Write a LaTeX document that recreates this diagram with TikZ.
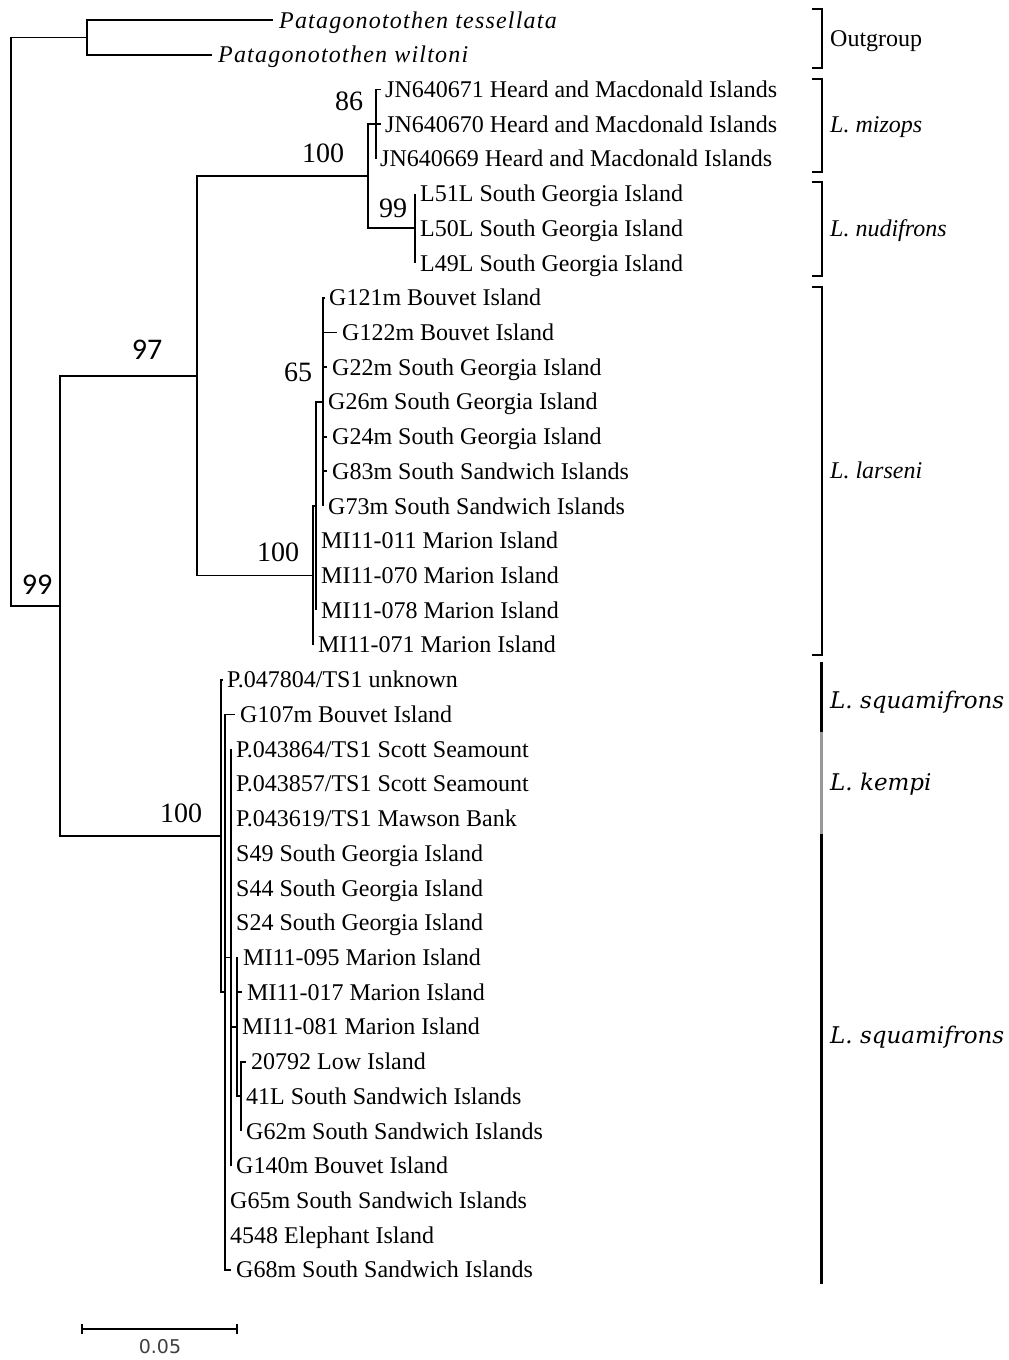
\documentclass[tikz,border=0pt]{standalone}
\usepackage{fontspec}
\setmainfont{Liberation Serif}
\newfontfamily\sqfont{DejaVu Serif}
\newfontfamily\bsfont{Carlito}
\newfontfamily\barfont{DejaVu Sans}
\newfontfamily\ogfont[LetterSpace=5]{Liberation Serif}
\usetikzlibrary{positioning}

% row height of the tip labels
\def\ry#1{20+34.72*#1-34.72}

\tikzset{
    branch/.style={line width=1.8pt},
    tiplab/.style={inner sep=0pt, text height=16pt, text depth=0pt, font=\fontsize{24}{24}\selectfont},
    boot/.style={inner sep=0pt, font=\fontsize{28}{28}\selectfont},
    bootsans/.style={inner sep=0pt, font=\bsfont\fontsize{30}{30}\selectfont},
    bracket/.style={line width=2pt},
    grouplab/.style={anchor=west, inner sep=0pt, text height=16pt, text depth=0pt, font=\fontsize{24}{24}\selectfont},
    sqlab/.style={grouplab, font=\sqfont\itshape\fontsize{23}{23}\selectfont},
    bar/.style={line width=3pt}
}

\begin{document}
\begin{tikzpicture}[x=1pt, y=-1pt]
        \fill[white] (0,0) rectangle (1009,1360);
        \useasboundingbox (0,0) rectangle (1009,1360);

        % inner nodes
        \coordinate (R) at (11,{(37.4+606)/2});
        \coordinate (O) at (87,37.4);
        \coordinate (I) at (60,606);
        \coordinate (N97) at (197,375.9);
        \coordinate (MN) at (368,176.2);
        \coordinate (MZ) at (376,\ry{4});
        \coordinate (ND) at (415,\ry{7});
        \coordinate (A) at (313,575.5);
        \coordinate (B) at (316,506);
        \coordinate (C) at (323,\ry{12});
        \coordinate (S) at (221,836);
        \coordinate (T) at (225,\ry{29});
        \coordinate (U) at (231,\ry{28});
        \coordinate (V) at (237,\ry{30});
        \coordinate (W) at (241,\ry{32});

        % tips
        \coordinate (t1) at (273,\ry{1});
        \coordinate (t2) at (212,\ry{2});
        \coordinate (t3) at (381,\ry{3});
        \coordinate (t4) at (381,\ry{4});
        \coordinate (t5) at (376,\ry{5});
        \coordinate (t6) at (415,\ry{6});
        \coordinate (t7) at (415,\ry{7});
        \coordinate (t8) at (415,\ry{8});
        \coordinate (t9) at (325,\ry{9});
        \coordinate (t10) at (337,\ry{10});
        \coordinate (t11) at (327,\ry{11});
        \coordinate (t12) at (323,\ry{12});
        \coordinate (t13) at (327,\ry{13});
        \coordinate (t14) at (327,\ry{14});
        \coordinate (t15) at (323,\ry{15});
        \coordinate (t16) at (316,\ry{16});
        \coordinate (t17) at (316,\ry{17});
        \coordinate (t18) at (316,\ry{18});
        \coordinate (t19) at (313,\ry{19});
        \coordinate (t20) at (223,\ry{20});
        \coordinate (t21) at (235,\ry{21});
        \coordinate (t22) at (231,\ry{22});
        \coordinate (t23) at (231,\ry{23});
        \coordinate (t24) at (231,\ry{24});
        \coordinate (t25) at (231,\ry{25});
        \coordinate (t26) at (231,\ry{26});
        \coordinate (t27) at (231,\ry{27});
        \coordinate (t28) at (238,\ry{28});
        \coordinate (t29) at (242,\ry{29});
        \coordinate (t30) at (237,\ry{30});
        \coordinate (t31) at (246,\ry{31});
        \coordinate (t32) at (241,\ry{32});
        \coordinate (t33) at (241,\ry{33});
        \coordinate (t34) at (231,\ry{34});
        \coordinate (t35) at (225,\ry{35});
        \coordinate (t36) at (225,\ry{36});
        \coordinate (t37) at (231,\ry{37});

        % branches
        \draw[branch] (R) |- (O) (R) |- (I) (O) |- (t1) (O) |- (t2);
        \draw[branch] (I) |- (N97) (I) |- (S);
        \draw[branch] (N97) |- (MN) (N97) |- (A);
        \draw[branch] (MN) |- (MZ) (MN) |- (ND);
        \draw[branch] (MZ) |- (t3) (MZ) |- (t4) (MZ) |- (t5);
        \draw[branch] (ND) |- (t6) (ND) |- (t7) (ND) |- (t8);
        \draw[branch] (A) |- (B) (A) |- (t19);
        \draw[branch] (B) |- (C) (B) |- (t16) (B) |- (t17) (B) |- (t18);
        \draw[branch] (C) |- (t9) (C) |- (t10) (C) |- (t11) (C) |- (t12) (C) |- (t13) (C) |- (t14) (C) |- (t15);
        \draw[branch] (S) |- (t20) (S) |- (T);
        \draw[branch] (T) |- (t21) (T) |- (U) (T) |- (t35) (T) |- (t36) (T) |- (t37);
        \draw[branch] (U) |- (t22) (U) |- (t23) (U) |- (t24) (U) |- (t25) (U) |- (t26) (U) |- (t27) (U) |- (V) (U) |- (t34);
        \draw[branch] (V) |- (t28) (V) |- (t29) (V) |- (t30) (V) |- (W);
        \draw[branch] (W) |- (t31) (W) |- (t32) (W) |- (t33);

        % tip labels
        \node[tiplab, right=6pt of t1] (l1) {\ogfont\itshape Patagonotothen tessellata};
        \node[tiplab, right=6pt of t2] (l2) {\ogfont\itshape Patagonotothen wiltoni};
        \node[tiplab, right=4pt of t3] (l3) {JN640671 Heard and Macdonald Islands};
        \node[tiplab, right=4pt of t4] (l4) {JN640670 Heard and Macdonald Islands};
        \node[tiplab, right=4pt of t5] (l5) {JN640669 Heard and Macdonald Islands};
        \node[tiplab, right=5pt of t6] (l6) {L51L South Georgia Island};
        \node[tiplab, right=5pt of t7] (l7) {L50L South Georgia Island};
        \node[tiplab, right=5pt of t8] (l8) {L49L South Georgia Island};
        \node[tiplab, right=4pt of t9] (l9) {G121m Bouvet Island};
        \node[tiplab, right=5pt of t10] (l10) {G122m Bouvet Island};
        \node[tiplab, right=5pt of t11] (l11) {G22m South Georgia Island};
        \node[tiplab, right=5pt of t12] (l12) {G26m South Georgia Island};
        \node[tiplab, right=5pt of t13] (l13) {G24m South Georgia Island};
        \node[tiplab, right=5pt of t14] (l14) {G83m South Sandwich Islands};
        \node[tiplab, right=5pt of t15] (l15) {G73m South Sandwich Islands};
        \node[tiplab, right=5pt of t16] (l16) {MI11-011 Marion Island};
        \node[tiplab, right=5pt of t17] (l17) {MI11-070 Marion Island};
        \node[tiplab, right=5pt of t18] (l18) {MI11-078 Marion Island};
        \node[tiplab, right=5pt of t19] (l19) {MI11-071 Marion Island};
        \node[tiplab, right=4pt of t20] (l20) {P.047804/TS1 unknown};
        \node[tiplab, right=5pt of t21] (l21) {G107m Bouvet Island};
        \node[tiplab, right=5pt of t22] (l22) {P.043864/TS1 Scott Seamount};
        \node[tiplab, right=5pt of t23] (l23) {P.043857/TS1 Scott Seamount};
        \node[tiplab, right=5pt of t24] (l24) {P.043619/TS1 Mawson Bank};
        \node[tiplab, right=5pt of t25] (l25) {S49 South Georgia Island};
        \node[tiplab, right=5pt of t26] (l26) {S44 South Georgia Island};
        \node[tiplab, right=5pt of t27] (l27) {S24 South Georgia Island};
        \node[tiplab, right=5pt of t28] (l28) {MI11-095 Marion Island};
        \node[tiplab, right=5pt of t29] (l29) {MI11-017 Marion Island};
        \node[tiplab, right=5pt of t30] (l30) {MI11-081 Marion Island};
        \node[tiplab, right=5pt of t31] (l31) {20792 Low Island};
        \node[tiplab, right=5pt of t32] (l32) {41L South Sandwich Islands};
        \node[tiplab, right=5pt of t33] (l33) {G62m South Sandwich Islands};
        \node[tiplab, right=5pt of t34] (l34) {G140m Bouvet Island};
        \node[tiplab, right=5pt of t35] (l35) {G65m South Sandwich Islands};
        \node[tiplab, right=5pt of t36] (l36) {4548 Elephant Island};
        \node[tiplab, right=5pt of t37] (l37) {G68m South Sandwich Islands};

        % support values
        \node[boot] (b86) at (349,101) {86};
        \node[boot] (b100a) at (323,153) {100};
        \node[boot] (b99a) at (393,208) {99};
        \node[boot] (b65) at (298,372) {65};
        \node[boot] (b100b) at (278,552) {100};
        \node[boot] (b100c) at (181,813) {100};
        \node[bootsans] (b97) at (147,350) {97};
        \node[bootsans] (b99b) at (37,585) {99};

        % groups
        \coordinate (og1) at (812,9);
        \coordinate (og2) at (812,68);
        \coordinate (mz1) at (812,79);
        \coordinate (mz2) at (812,172);
        \coordinate (nd1) at (812,182);
        \coordinate (nd2) at (812,276);
        \coordinate (la1) at (812,287);
        \coordinate (la2) at (812,655);
        \draw[bracket] (og1) -- ++(10,0) |- (og2);
        \draw[bracket] (mz1) -- ++(10,0) |- (mz2);
        \draw[bracket] (nd1) -- ++(10,0) |- (nd2);
        \draw[bracket] (la1) -- ++(10,0) |- (la2);
        \node[grouplab] (gog) at (830,38) {Outgroup};
        \node[grouplab] (gmz) at (830,124) {\textit{L. mizops}};
        \node[grouplab] (gnd) at (830,228) {\textit{L. nudifrons}};
        \node[grouplab] (gla) at (830,470) {\textit{L. larseni}};

        \coordinate (sq1) at (821,662);
        \coordinate (sq2) at (821,732);
        \coordinate (ke2) at (821,834);
        \coordinate (sq3) at (821,1284);
        \draw[bar] (sq1) -- (sq2);
        \draw[bar, color=black!40] (sq2) -- (ke2);
        \draw[bar] (ke2) -- (sq3);
        \node[sqlab] (gsq1) at (830,700) {L. squamifrons};
        \node[sqlab] (gke) at (830,782) {L. kempi};
        \node[sqlab] (gsq2) at (830,1035) {L. squamifrons};

        % scale
        \coordinate (sb1) at (82,1329);
        \coordinate (sb2) at (237,1329);
        \draw[branch] (sb1) -- (sb2);
        \draw[branch] ([yshift=-5pt]sb1) -- ([yshift=5pt]sb1) ([yshift=-5pt]sb2) -- ([yshift=5pt]sb2);
        \node[inner sep=0pt, font=\barfont\fontsize{19}{19}\selectfont, text=black!75] (sbl) at (160,1347) {0.05};
\end{tikzpicture}
\end{document}
